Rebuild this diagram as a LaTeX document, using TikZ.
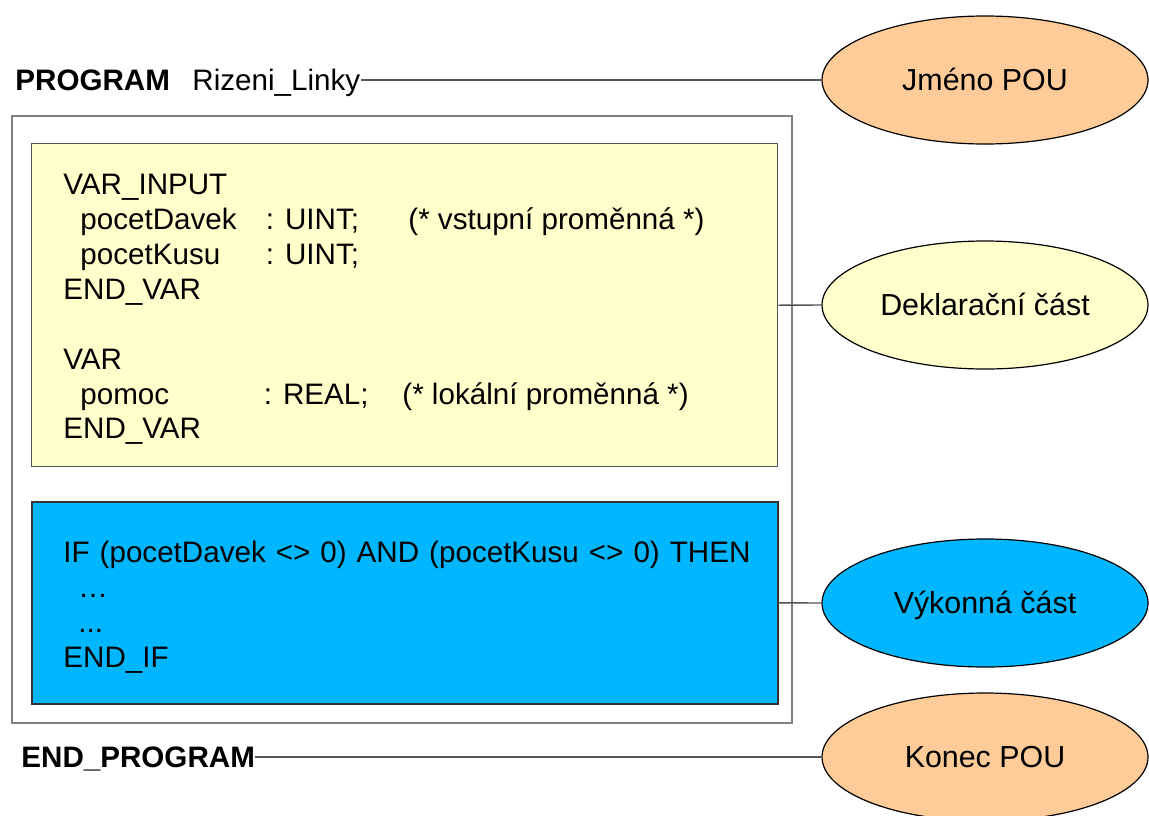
\documentclass[tikz,border=0pt]{standalone}
\usepackage{fontspec}
\setmainfont{Liberation Sans}
\usepackage{tikz}
\usetikzlibrary{shapes,positioning}
\newcommand{\codesize}{\fontsize{14.8}{17}\selectfont}
\newcommand{\pousize}{\fontsize{15.2}{17}\selectfont}
\tikzset{
  pounode/.style = {ellipse, draw=black, line width=0.6pt, inner sep=0pt, minimum width=163pt,
  minimum height=64pt, text height=10.9pt, text depth=0pt, text centered, font=\pousize},
  pou_or/.style = {pounode, fill=my_orange},
  pou_ye/.style = {pounode, fill=my_yellow},
  pou_bl/.style = {pounode, fill=my_blue},
  partbox/.style = {rectangle, anchor=north west, inner sep=0pt, minimum width=373pt}
}
\definecolor{my_orange}{RGB}{255, 204, 153}
\definecolor{my_yellow}{RGB}{255, 255, 204}
\definecolor{my_blue}{RGB}{0, 183, 255}
\definecolor{my_gray}{RGB}{85, 85, 85}

\begin{document}
\begin{tikzpicture}[x=0.5pt, y=-0.5pt,
        txt/.style={anchor=base west, inner sep=0pt, font=\codesize},
        kw/.style={txt, font=\codesize\bfseries},
        conn/.style={draw=my_gray, line width=0.7pt}]
    \path[use as bounding box, clip] (0,0) rectangle (1149,815);
    % program frame and its two parts
    \node[rectangle, anchor=north west, draw=gray, line width=1pt, minimum width=390pt,
        minimum height=303.5pt] (prog) at (11,115) {};
    \node[partbox, draw=my_gray, line width=0.7pt, fill=my_yellow, minimum height=161.5pt] (decl) at (31,143) {};
    \node[partbox, draw=black!80, line width=0.8pt, fill=my_blue, minimum height=101pt] (exec) at (31,501) {};
    % header and footer
    \node[kw] (kw_prog) at (15,90) {PROGRAM};
    \node[txt] (prog_name) at (192,90) {Rizeni\_Linky};
    \node[kw] (kw_end) at (21,767) {END\_PROGRAM};
    % declaration part
    \node[txt] (d1) at (63,194.5) {VAR\_INPUT};
    \node[txt] (d2) at (80,229.5) {pocetDavek};
    \node[txt] (d2t) at (265.5,229.5) {: UINT;};
    \node[txt] (d2c) at (408,229.5) {(* vstupní proměnná *)};
    \node[txt] (d3) at (80,264.5) {pocetKusu};
    \node[txt] (d3t) at (265.5,264.5) {: UINT;};
    \node[txt] (d4) at (63,299.5) {END\_VAR};
    \node[txt] (d5) at (63,369.5) {VAR};
    \node[txt] (d6) at (80,404.5) {pomoc};
    \node[txt] (d6t) at (263.5,404.5) {: REAL;};
    \node[txt] (d6c) at (402,404.5) {(* lokální proměnná *)};
    \node[txt] (d7) at (63,438.5) {END\_VAR};
    % executive part
    \node[txt] (e1) at (63,562.5) {\spaceskip=5pt plus 1pt\relax IF (pocetDavek <> 0) AND (pocetKusu <> 0) THEN};
    \node[txt] (e2) at (78,597.5) {…};
    \node[txt] (e3) at (78,632.5) {...};
    \node[txt] (e4) at (63,667.5) {END\_IF};
    % labels on the right
    \node[pou_or] (ell_name) at (985,80) {Jméno POU};
    \node[pou_ye] (ell_decl) at (985,305) {Deklarační část};
    \node[pou_bl] (ell_exec) at (985,603) {Výkonná část};
    \node[pou_or] (ell_end) at (985,757) {Konec POU};
    \draw[conn] (ell_name.west) -- (ell_name.west -| prog_name.east);
    \draw[conn] (decl.east) -- (ell_decl.west);
    \draw[conn] (exec.east) -- (ell_exec.west);
    \draw[conn] (ell_end.west) -- (ell_end.west -| kw_end.east);
\end{tikzpicture}
\end{document}
